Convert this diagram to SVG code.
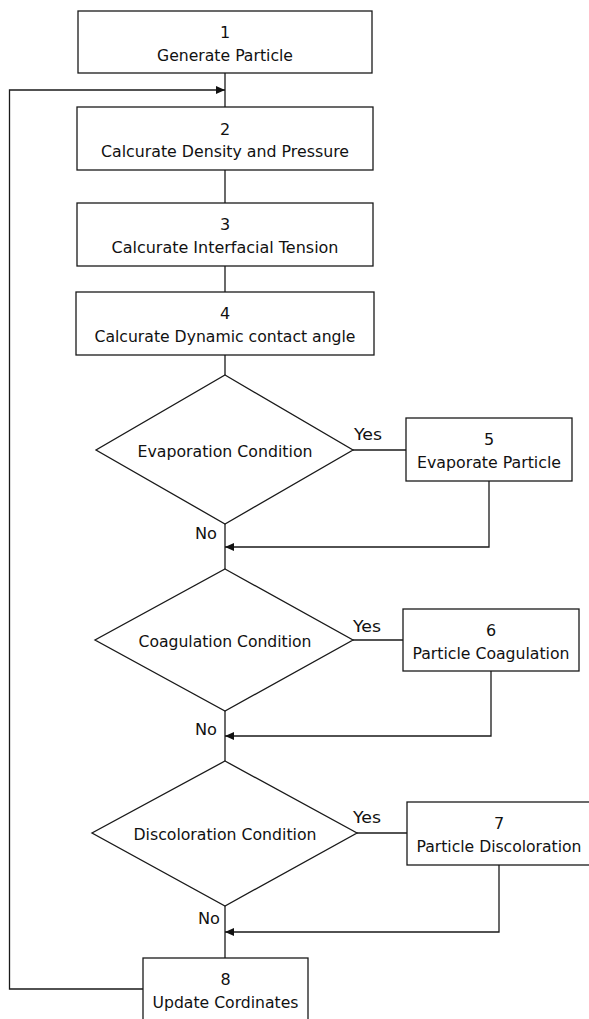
<svg xmlns="http://www.w3.org/2000/svg" width="589" height="1019" viewBox="0 0 589 1019">
<style>
.n{fill:#fff;stroke:#1a1a1a;stroke-width:1.3}
.c{fill:none;stroke:#1a1a1a;stroke-width:1.3}
text{font-family:"DejaVu Sans","Noto Sans",sans-serif;font-size:16px;fill:#111}
.m{text-anchor:middle}
</style>
<defs>
<marker id="ah" markerWidth="10" markerHeight="8" refX="9" refY="4" orient="auto" markerUnits="userSpaceOnUse">
<path d="M0,0 L9,4 L0,8 Z" fill="#111"/>
</marker>
</defs>
<rect width="589" height="1019" fill="#fff"/>
<g id="connectors">
<path class="c" d="M225,73 V107"/>
<path class="c" d="M143,989 H9.5 V90 H225" marker-end="url(#ah)"/>
<path class="c" d="M225,170 V203"/>
<path class="c" d="M225,266 V292"/>
<path class="c" d="M225,355 V375"/>
<path class="c" d="M353,450 H406"/>
<path class="c" d="M489,481 V547 H225" marker-end="url(#ah)"/>
<path class="c" d="M225,524 V569"/>
<path class="c" d="M353,640 H403"/>
<path class="c" d="M491,671 V736 H225" marker-end="url(#ah)"/>
<path class="c" d="M225,711 V761"/>
<path class="c" d="M357,833 H407"/>
<path class="c" d="M499,865 V932 H225" marker-end="url(#ah)"/>
<path class="c" d="M225,906 V958"/>
<text x="354" y="440" textLength="28" lengthAdjust="spacingAndGlyphs">Yes</text>
<text x="353" y="632" textLength="28" lengthAdjust="spacingAndGlyphs">Yes</text>
<text x="353" y="823" textLength="28" lengthAdjust="spacingAndGlyphs">Yes</text>
<text x="217" y="539" text-anchor="end" textLength="22" lengthAdjust="spacingAndGlyphs">No</text>
<text x="217" y="735" text-anchor="end" textLength="22" lengthAdjust="spacingAndGlyphs">No</text>
<text x="220" y="924" text-anchor="end" textLength="22" lengthAdjust="spacingAndGlyphs">No</text>
</g>
<g id="n1">
<rect class="n" x="78" y="11" width="294" height="62"/>
<text class="m" x="225" y="37.5">1</text>
<text class="m" x="225" y="60.5" textLength="136" lengthAdjust="spacingAndGlyphs">Generate Particle</text>
</g>
<g id="n2">
<rect class="n" x="77" y="107" width="296" height="63"/>
<text class="m" x="225" y="134.5">2</text>
<text class="m" x="225" y="157" textLength="248" lengthAdjust="spacingAndGlyphs">Calcurate Density and Pressure</text>
</g>
<g id="n3">
<rect class="n" x="77" y="203" width="296" height="63"/>
<text class="m" x="225" y="230">3</text>
<text class="m" x="225" y="253" textLength="227" lengthAdjust="spacingAndGlyphs">Calcurate Interfacial Tension</text>
</g>
<g id="n4">
<rect class="n" x="76" y="292" width="298" height="63"/>
<text class="m" x="225" y="319">4</text>
<text class="m" x="225" y="342" textLength="261" lengthAdjust="spacingAndGlyphs">Calcurate Dynamic contact angle</text>
</g>
<g id="d1">
<polygon class="n" points="225,375 353,450 225,524 96,450"/>
<text class="m" x="225" y="457" textLength="175" lengthAdjust="spacingAndGlyphs">Evaporation Condition</text>
</g>
<g id="n5">
<rect class="n" x="406" y="418" width="166" height="63"/>
<text class="m" x="489" y="445">5</text>
<text class="m" x="489" y="467.5" textLength="144" lengthAdjust="spacingAndGlyphs">Evaporate Particle</text>
</g>
<g id="d2">
<polygon class="n" points="225,569 353,640 225,711 95,640"/>
<text class="m" x="225" y="647" textLength="173" lengthAdjust="spacingAndGlyphs">Coagulation Condition</text>
</g>
<g id="n6">
<rect class="n" x="403" y="609" width="176" height="62"/>
<text class="m" x="491" y="636">6</text>
<text class="m" x="491" y="659" textLength="157" lengthAdjust="spacingAndGlyphs">Particle Coagulation</text>
</g>
<g id="d3">
<polygon class="n" points="225,761 357,833 225,906 92,833"/>
<text class="m" x="225" y="840" textLength="183" lengthAdjust="spacingAndGlyphs">Discoloration Condition</text>
</g>
<g id="n7">
<rect class="n" x="407" y="802" width="184" height="63"/>
<text class="m" x="499" y="829">7</text>
<text class="m" x="499" y="852" textLength="165" lengthAdjust="spacingAndGlyphs">Particle Discoloration</text>
</g>
<g id="n8">
<rect class="n" x="143" y="958" width="165" height="75"/>
<text class="m" x="225.5" y="985">8</text>
<text class="m" x="225.5" y="1008" textLength="146" lengthAdjust="spacingAndGlyphs">Update Cordinates</text>
</g>
</svg>
